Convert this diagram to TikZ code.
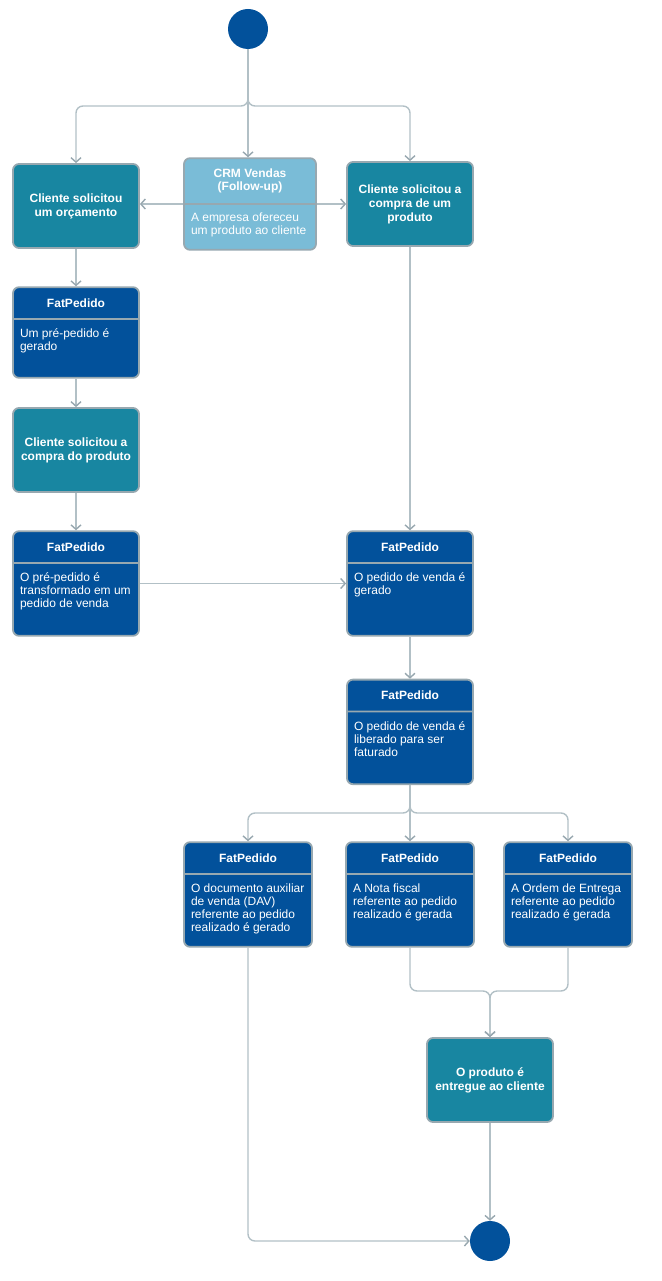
\documentclass[tikz,border=0pt]{standalone}
\usepackage{fontspec}
\setmainfont{Liberation Sans}
\usetikzlibrary{arrows.meta,positioning,shapes.multipart}
\definecolor{navy}{HTML}{02519B}
\definecolor{sea}{HTML}{1886A1}
\definecolor{sky}{HTML}{7ABCD7}
\definecolor{edge}{HTML}{97A8B0}
\definecolor{wire}{HTML}{B2C0C6}
\definecolor{tip}{HTML}{97A7AF}
\tikzset{
  flow/.style={-{Straight Barb[length=4.5pt,width=10pt,color=tip]},line width=1.4pt,draw=wire,rounded corners=7pt},
  activity/.style={draw=edge,line width=1.8pt,fill=sea,rounded corners=6pt,minimum width=126pt,minimum height=84pt,align=center,inner sep=0pt,text=white,font=\fontsize{12pt}{14pt}\selectfont\bfseries},
  fat/.style={rectangle split,rectangle split parts=2,rectangle split draw splits=true,draw=edge,line width=1.8pt,fill=#1,rounded corners=6pt,inner sep=0pt,text=white,font=\fontsize{12pt}{13pt}\selectfont},
  fat/.default=navy,
  terminal/.style={circle,fill=navy,minimum size=40pt,inner sep=0pt}
}
\newcommand{\fathead}[2][126pt]{\parbox[c][30pt]{#1}{\centering\bfseries #2}}
\newcommand{\fatbody}[3][126pt]{\parbox[c][#2][t]{#1}{\raggedright\leftskip=7pt\rule{0pt}{18pt}#3}}

\begin{document}
\begin{tikzpicture}[x=1pt,y=-1pt]
    \useasboundingbox (0,0) rectangle (661,1281);

    \node[terminal] (start) at (248,29) {};

    % first row
    \node[activity] (quote) at (76,206) {Cliente solicitou\\um orçamento};
    \node[fat=sky] (crm) at (250,204) {\parbox[c][44pt]{132pt}{\centering\bfseries\fontsize{12pt}{13pt}\selectfont CRM Vendas\\(Follow-up)}\nodepart{two}\parbox[c][44pt][t]{132pt}{\raggedright\leftskip=7pt\rule{0pt}{17pt}A empresa ofereceu\\um produto ao cliente}};
    \node[activity] (buy) at (410,204) {Cliente solicitou a\\compra de um\\produto};

    % left column
    \node[fat] (prepedido) at (76,332.5) {\fathead{FatPedido}\nodepart{two}\fatbody{57pt}{Um pré-pedido é\\gerado}};
    \node[activity] (buyprod) at (76,450) {Cliente solicitou a\\compra do produto};
    \node[fat] (convert) at (76,583.5) {\fathead{FatPedido}\nodepart{two}\fatbody{71pt}{O pré-pedido é\\transformado em um\\pedido de venda}};

    % right column
    \node[fat] (order) at (410,583.5) {\fathead{FatPedido}\nodepart{two}\fatbody{71pt}{O pedido de venda é\\gerado}};
    \node[fat,below=42pt of order] (release) {\fathead{FatPedido}\nodepart{two}\fatbody{71pt}{O pedido de venda é\\liberado para ser\\faturado}};

    % documents
    \node[fat] (dav) at (248,894.5) {\fathead[128pt]{FatPedido}\nodepart{two}\fatbody[128pt]{71pt}{O documento auxiliar\\de venda (DAV)\\referente ao pedido\\realizado é gerado}};
    \node[fat] (nota) at (410,894.5) {\fathead[128pt]{FatPedido}\nodepart{two}\fatbody[128pt]{71pt}{A Nota fiscal\\referente ao pedido\\realizado é gerada}};
    \node[fat] (entrega) at (568,894.5) {\fathead[128pt]{FatPedido}\nodepart{two}\fatbody[128pt]{71pt}{A Ordem de Entrega\\referente ao pedido\\realizado é gerada}};

    \node[activity] (deliver) at (490,1080) {O produto é\\entregue ao cliente};
    \node[terminal] (finish) at (490,1241) {};

    \coordinate (fork) at (248,106);
    \coordinate (fork2) at (410,813);
    \coordinate (join) at (490,991);

    \draw[flow] (start) -- (fork) -| (quote);
    \draw[flow] (start) -- (fork) -- (fork |- crm.north);
    \draw[flow] (start) -- (fork) -| (buy);
    \draw[flow] (crm.west) -- (crm.west -| quote.east);
    \draw[flow] (crm.east) -- (crm.east -| buy.west);

    \draw[flow] (quote) -- (prepedido);
    \draw[flow] (prepedido) -- (buyprod);
    \draw[flow] (buyprod) -- (convert);
    \draw[flow] (convert) -- (order);
    \draw[flow] (buy) -- (order);
    \draw[flow] (order) -- (release);

    \draw[flow] (release) -- (fork2) -| (dav);
    \draw[flow] (release) -- (fork2) -- (nota);
    \draw[flow] (release) -- (fork2) -| (entrega);

    \draw[flow] (nota) |- (join) -- (deliver);
    \draw[flow] (entrega) |- (join) -- (deliver);
    \draw[flow] (deliver) -- (finish);
    \draw[flow] (dav) |- (finish);
  \end{tikzpicture}
\end{document}
